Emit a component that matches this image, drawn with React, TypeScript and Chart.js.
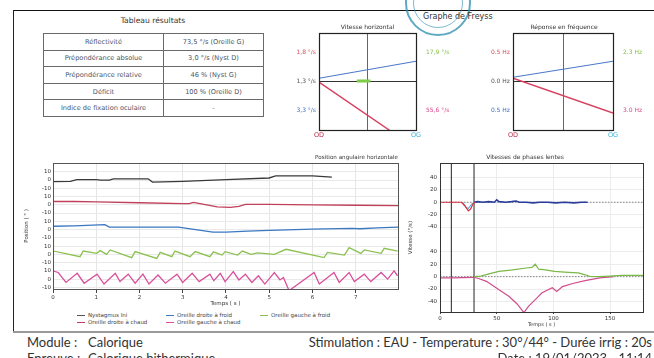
import React, { useEffect, useRef } from 'react';
import { Chart, registerables } from 'chart.js';

Chart.register(...registerables);
Chart.defaults.font.family = "'DejaVu Sans', sans-serif";
Chart.defaults.color = '#333';

// ---------------- Table ----------------
const tableTitle = 'Tableau résultats';
const tableLabels = ['Réflectivité', 'Prépondérance absolue', 'Prépondérance relative', 'Déficit', 'Indice de fixation oculaire'];
const tableValues = ['73,5 °/s (Oreille G)', '3,0 °/s (Nyst D)', '46 % (Nyst G)', '100 % (Oreille D)', '-'];

// ---------------- Freyss ----------------
const freyssTitle = 'Graphe de Freyss';
const freyssEnds = [0, 1]; // OD, OG
const freyssTicks = [0.6, 0, -0.6];
const vitTitle = 'Vitesse horizontal';
const vitLeftLabels = ['1,8 °/s', '1,3 °/s', '3,3 °/s'];
const vitRightLabels = ['17,9 °/s', '', '55,6 °/s'];
const vitBlue = [0.07, 0.42];
const vitRed = [-0.01, -1.38];
const vitGreenX = [0.39, 0.53];
const vitGreenY = [0.01, 0.01];
const freqTitle = 'Réponse en fréquence';
const freqLeftLabels = ['0.5 Hz', '0.0 Hz', '0.5 Hz'];
const freqRightLabels = ['2.3 Hz', '', '3.0 Hz'];
const freqBlue = [0.09, 0.42];
const freqRed = [0.07, -0.65];

// ---------------- Position angulaire horizontale ----------------
const posTitle = 'Position angulaire horizontale';
const posXTicks = [0, 1, 2, 3, 4, 5, 6, 7];
const bandOffsets = [60, 30, 0, -30, -60];
const nystT = [0, 0.4, 0.55, 1.0, 1.1, 1.3, 1.4, 2.2, 2.3, 3.0, 4.0, 5.0, 5.15, 6.0, 6.45];
const nystV = [-2, -1.5, 0.5, 0.5, 0, 0, 1.5, 1.5, -2.5, -1.5, 0.5, 2.5, 5, 5, 3.5];
const odChaudT = [0, 0, 0.5, 1.0, 2.0, 3.0, 3.15, 3.25, 3.4, 3.8, 4.1, 4.3, 4.45, 5.0, 6.0, 7.0, 7.98];
const odChaudV = [38, 4, 4, 3.5, 2.5, 1.5, 1.5, 3, 1.5, -2.5, -3, -2, 0.5, 0.5, 0, -0.5, -1];
const odFroidT = [0, 0, 0.01, 0.5, 1.2, 1.3, 2.0, 2.9, 3.3, 3.7, 4.0, 4.5, 5.0, 6.0, 6.9, 7.1, 7.5, 7.98];
const odFroidV = [16, -14, 4, 4.5, 6, 3, 3, 3, 0, -3, -3, -2, -1, 0.5, 1.5, 1, 2, 3];
const ogFroidT = [0, 0.01, 0.625, 0.7, 1.01, 1.09, 1.24, 1.32, 1.82, 1.9, 2.4, 2.48, 2.75, 2.82, 3.17, 3.29, 3.63, 3.71, 3.91, 3.98, 4.27, 4.38, 4.58, 4.73, 5.12, 5.39, 6.27, 6.35, 6.74, 6.85, 7.12, 7.2, 7.59, 7.66, 7.97];
const ogFroidV = [19, 4, -2.8, 4, 1.2, 4.5, 0, 5.3, -4, 3.3, -4.9, 2.4, -2.8, 4, -2.8, 3.3, -2.8, 3.1, -0.9, 3.3, -0.9, 4, 0, 1.8, 0, 6.1, -4, 2.4, -0.9, 8.2, 1.2, 5.3, 1.2, 7.3, 4];
const ogChaudT = [0, 0, 0.12, 0.3, 0.56, 0.72, 1.02, 1.18, 1.44, 1.55, 1.74, 1.9, 2.08, 2.22, 2.43, 2.6, 2.87, 3.0, 3.22, 3.38, 3.63, 3.72, 3.87, 3.98, 4.17, 4.3, 4.45, 4.6, 4.75, 4.9, 5.12, 5.25, 5.33, 5.46, 6.04, 6.16, 6.5, 6.62, 6.85, 6.97, 7.2, 7.35, 7.59, 7.74, 7.89, 7.97];
const ogChaudV = [-16, 10, 8, -4, 7, -5, 6, -6, 7, -3, 6, -5, 6, -6, 5, -5, 6, -4, 7, -3, 6, -2, 7, -3, 9, -1, 6, -4, 4, -6, 8, -1, 2, -14, 8, -6, 8, -4, 8, -3, 6, -3, 8, 0, 10, 4];
const legendItems = [
  { label: 'Nystagmus Ini', color: '#555555' },
  { label: 'Oreille droite à froid', color: '#3a78c0' },
  { label: 'Oreille gauche à froid', color: '#8cc050' },
  { label: 'Oreille droite à chaud', color: '#c0405a' },
  { label: 'Oreille gauche à chaud', color: '#d8509a' },
];

// ---------------- Vitesses de phases lentes ----------------
const velTitle = 'Vitesses de phases lentes';
const velXTicks = [0, 50, 100, 150];
const velOffsets = [60, -60];
const velRedT = [0, 10, 19, 22, 25, 27, 29, 31];
const velRedV = [0, 0, 0, -6, -14, -11, -3, 0];
const velBlueDipT = [20, 23, 25, 28, 30];
const velBlueDipV = [0, -8, -10, -3, 0];
const velBlueT = [30, 33, 38, 43, 48, 50, 52, 58, 63, 67, 70, 76, 82, 88, 95, 102, 110, 118, 125, 130];
const velBlueV = [0, 1, 0, 1, 0, 4, 1, 0, 1, 2, 0, 0, -1, 0, 0, -1, 0, -1, 0, 0];
const velGreenT = [30, 36, 44, 52, 64, 76, 81, 84, 87, 93, 101, 113, 122, 128, 132, 140, 150, 160, 170, 179];
const velGreenV = [0, 1, 5, 8.5, 11, 14, 15, 20, 12, 11, 8.5, 7, 6, 3, 0.5, 0, 1, 2, 2, 2];
const velPinkT = [0, 10, 30, 34, 41, 52, 61, 68, 74, 78, 84, 90, 99, 103, 108, 117, 129, 141, 153];
const velPinkV = [-2, -2, -1, -3, -7.5, -21, -32, -44, -58, -48, -37, -26, -18, -24, -16, -11, -6, -2, 0];
const velZeroT = [0, 179];
const irrigMarks = [10, 30];
const velEdgeRed = [123, 60];
const velEdgeBlue = [60, -15];
const velEdgeGreen = [-15, -60];
const velEdgePink = [-60, -117];

// ---------------- Footer ----------------
const moduleText = ['Module :', 'Calorique'];
const epreuveText = ['Epreuve :', 'Calorique bithermique'];
const stimText = 'Stimulation : EAU - Temperature : 30°/44° - Durée irrig : 20s';
const dateText = 'Date : 19/01/2023 - 11:14';

const framePlugin = {
  id: 'frame',
  afterDatasetsDraw(chart: any, _args: any, opts: any) {
    const { ctx, chartArea } = chart;
    ctx.save();
    ctx.strokeStyle = opts.color || '#333';
    ctx.lineWidth = opts.width || 1;
    ctx.strokeRect(Math.round(chartArea.left) + 0.5, Math.round(chartArea.top) + 0.5, Math.round(chartArea.right - chartArea.left), Math.round(chartArea.bottom - chartArea.top));
    ctx.restore();
  },
};

const pts = (t: number[], v: number[], off = 0) => t.map((x, i) => ({ x, y: v[i] + off }));
const line = (label: string, data: any[], color: string, width = 1.1, extra: any = {}) => ({
  label, data, borderColor: color, backgroundColor: color, borderWidth: width, showLine: true, pointRadius: 0, tension: 0, ...extra,
});

function ChartCanvas({ left, top, width, height, make }: any) {
  const ref = useRef<HTMLCanvasElement>(null);
  useEffect(() => {
    const ch = new Chart(ref.current as HTMLCanvasElement, make());
    return () => ch.destroy();
  }, []);
  return <canvas ref={ref} width={width} height={height} style={{ position: 'absolute', left, top, width, height }} />;
}

const idx3 = (v: number) => (v > 0.3 ? 0 : v < -0.3 ? 2 : 1);
const leftColors = ['#d8505a', '#555555', '#3d6fc0'];
const rightColors = ['#86bf4a', '#555555', '#d8478c'];

function freyssConfig(title: string, leftLabels: string[], rightLabels: string[], datasets: any[], rightW: number) {
  return {
    type: 'scatter',
    data: { datasets },
    options: {
      animation: false, responsive: false,
      layout: { padding: { top: 4, left: 0, right: 0, bottom: 0 } },
      plugins: {
        legend: { display: false }, tooltip: { enabled: false },
        title: { display: true, text: title, font: { size: 6, weight: 'normal' }, color: '#333', padding: { top: 0, bottom: 2 } },
        frame: { color: '#222', width: 1.2 },
      },
      scales: {
        x: {
          type: 'linear', min: 0, max: 1,
          afterBuildTicks: (s: any) => { s.ticks = [0, 0.5, 1].map((value) => ({ value })); },
          ticks: { maxRotation: 0, autoSkip: false, padding: 1, font: { size: 6.5 },
            callback: (v: number) => (v === 0 ? 'OD' : v === 1 ? 'OG' : ''),
            color: (c: any) => (c.tick && c.tick.value === 0 ? '#b8304a' : '#3ab4e0') },
          grid: { drawTicks: false, color: (c: any) => (c.tick && c.tick.value === 0.5 ? '#666' : 'rgba(0,0,0,0)') },
          border: { display: false },
          afterFit: (s: any) => { s.height = 15; },
        },
        y: {
          position: 'left', min: -1, max: 1,
          afterBuildTicks: (s: any) => { s.ticks = freyssTicks.map((value) => ({ value })); },
          ticks: { autoSkip: false, padding: 3, font: { size: 6 },
            callback: (v: number) => leftLabels[idx3(v)],
            color: (c: any) => leftColors[idx3(c.tick ? c.tick.value : 0)] },
          grid: { drawTicks: false, color: (c: any) => (c.tick && c.tick.value === 0 ? '#333' : 'rgba(0,0,0,0)') },
          border: { display: false },
          afterFit: (s: any) => { s.width = 39; },
        },
        y2: {
          position: 'right', min: -1, max: 1,
          afterBuildTicks: (s: any) => { s.ticks = freyssTicks.map((value) => ({ value })); },
          ticks: { autoSkip: false, padding: 2, font: { size: 6 },
            callback: (v: number) => rightLabels[idx3(v)],
            color: (c: any) => rightColors[idx3(c.tick ? c.tick.value : 0)] },
          grid: { display: false },
          border: { display: false },
          afterFit: (s: any) => { s.width = rightW; },
        },
      },
    },
    plugins: [framePlugin],
  };
}

const vitConfig = () => freyssConfig(vitTitle, vitLeftLabels, vitRightLabels, [
  line('Vitesse OD/OG', pts(freyssEnds, vitBlue), '#4a78c8', 1.1),
  line('Vitesse', pts(freyssEnds, vitRed), '#d84060', 1.4),
  line('Vitesse ref', pts(vitGreenX, vitGreenY), '#7ccc44', 3),
], 39);

const freqConfig = () => freyssConfig(freqTitle, freqLeftLabels, freqRightLabels, [
  line('Fréquence bleu', pts(freyssEnds, freqBlue), '#4a78c8', 1.1),
  line('Fréquence rouge', pts(freyssEnds, freqRed), '#d84060', 1.4),
], 41);

const posConfig = () => {
  const series = [
    { label: 'Nystagmus Ini', t: nystT, v: nystV, band: 0, color: '#3a3a3a' },
    { label: 'Oreille droite à chaud', t: odChaudT, v: odChaudV, band: 1, color: '#c0405a' },
    { label: 'Oreille droite à froid', t: odFroidT, v: odFroidV, band: 2, color: '#3a78c0' },
    { label: 'Oreille gauche à froid', t: ogFroidT, v: ogFroidV, band: 3, color: '#8cc050' },
    { label: 'Oreille gauche à chaud', t: ogChaudT, v: ogChaudV, band: 4, color: '#d8509a' },
  ];
  const tickVals = bandOffsets.flatMap((o) => [o + 10, o, o - 10]);
  const nearest = (v: number) => bandOffsets.reduce((a, b) => (Math.abs(v - b) < Math.abs(v - a) ? b : a));
  return {
    type: 'scatter',
    data: { datasets: series.map((s) => line(s.label, pts(s.t, s.v, bandOffsets[s.band]), s.color, 1.3)) },
    options: {
      animation: false, responsive: false,
      layout: { padding: { left: 8, right: 7, top: 4, bottom: 0 } },
      plugins: {
        legend: { display: false }, tooltip: { enabled: false },
        title: { display: true, text: posTitle, align: 'end', font: { size: 5.6, weight: 'normal' }, color: '#333', padding: { top: 0, bottom: 2 } },
        frame: { color: '#555', width: 1 },
      },
      scales: {
        x: {
          type: 'linear', min: 0, max: 7.98,
          afterBuildTicks: (s: any) => { s.ticks = posXTicks.map((value) => ({ value })); },
          ticks: { autoSkip: false, font: { size: 5.5 }, padding: 1, maxRotation: 0, color: '#333', callback: (v: number) => String(v) },
          grid: { color: '#e6e6e6', tickLength: 4, tickColor: '#444' },
          border: { display: false },
          title: { display: true, text: 'Temps ( s )', font: { size: 5.5 }, padding: { top: 1, bottom: 0 }, color: '#333' },
          afterFit: (s: any) => { s.height = 18; },
        },
        y: {
          min: -72, max: 81,
          afterBuildTicks: (s: any) => { s.ticks = tickVals.map((value) => ({ value })); },
          ticks: { autoSkip: false, font: { size: 5.5 }, padding: 2, color: '#333',
            callback: (v: number) => String(Math.round(v - nearest(v))) },
          grid: { color: '#e9e9e9', drawTicks: false },
          border: { display: false },
          title: { display: true, text: 'Position ( ° )', font: { size: 5.5 }, padding: 0, color: '#333' },
          afterFit: (s: any) => { s.width = 30; },
        },
      },
    },
    plugins: [framePlugin],
  };
};

const velConfig = () => {
  const [up, lo] = velOffsets;
  const tickVals = velOffsets.flatMap((o) => [o + 40, o + 20, o, o - 20, o - 40]);
  const datasets = [
    line('Oreille droite à chaud', pts(velRedT, velRedV, up), '#d83040', 1.2),
    line('Oreille droite à froid (début)', pts(velBlueDipT, velBlueDipV, up), '#62b4e4', 1.2),
    line('Oreille droite à froid', pts(velBlueT, velBlueV, up), '#2a3c9c', 1.6),
    line('Oreille gauche à froid', pts(velGreenT, velGreenV, lo), '#7ab848', 1.2),
    line('Oreille gauche à chaud', pts(velPinkT, velPinkV, lo), '#d04c8c', 1.2),
    line('Début irrigation', [{ x: irrigMarks[0], y: -117 }, { x: irrigMarks[0], y: 123 }], '#222', 1),
    line('Fin irrigation', [{ x: irrigMarks[1], y: -117 }, { x: irrigMarks[1], y: 123 }], '#222', 1),
    line('edge r', pts([0, 0], velEdgeRed), '#d83040', 1.6),
    line('edge b', pts([0, 0], velEdgeBlue), '#62a8e0', 1.6),
    line('edge g', pts([0, 0], velEdgeGreen), '#7ab848', 1.6),
    line('edge p', pts([0, 0], velEdgePink), '#d04c8c', 1.6),
    line('zéro haut', pts(velZeroT, [0, 0], up), '#888', 1, { borderDash: [1.5, 1.5] }),
    line('zéro bas', pts(velZeroT, [0, 0], lo), '#888', 1, { borderDash: [1.5, 1.5] }),
  ];
  return {
    type: 'scatter',
    data: { datasets },
    options: {
      animation: false, responsive: false,
      layout: { padding: { left: 7, right: 11, top: 4, bottom: 0 } },
      plugins: {
        legend: { display: false }, tooltip: { enabled: false },
        title: { display: true, text: velTitle, font: { size: 6, weight: 'normal' }, color: '#333', padding: { top: 0, bottom: 2 } },
        frame: { color: '#333', width: 1 },
      },
      scales: {
        x: {
          type: 'linear', min: 0, max: 179,
          afterBuildTicks: (s: any) => { s.ticks = velXTicks.map((value) => ({ value })); },
          ticks: { autoSkip: false, font: { size: 5.5 }, padding: 1, maxRotation: 0, color: '#333', callback: (v: number) => String(v) },
          grid: { color: '#ececec', tickLength: 2, tickColor: '#444' },
          border: { display: false },
          title: { display: true, text: 'Temps ( s )', font: { size: 5 }, padding: { top: 0, bottom: 0 }, color: '#333' },
          afterFit: (s: any) => { s.height = 16; },
        },
        y: {
          min: -117, max: 123,
          afterBuildTicks: (s: any) => { s.ticks = tickVals.map((value) => ({ value })); },
          ticks: { autoSkip: false, font: { size: 5.5 }, padding: 3, color: '#333',
            callback: (v: number) => String(Math.round(v - (v > 0 ? up : lo))) },
          grid: { color: '#ececec', drawTicks: false },
          border: { display: false },
          title: { display: true, text: 'Vitesse (°/s)', font: { size: 5.5 }, padding: 0, color: '#333' },
          afterFit: (s: any) => { s.width = 33; },
        },
      },
    },
    plugins: [framePlugin],
  };
};

const tdBase: React.CSSProperties = { border: '1px solid #6a6a6a', textAlign: 'center', padding: 0, height: 15.6, fontSize: 6.6, color: '#4a5566', whiteSpace: 'nowrap' };
const footFont = "Lato, sans-serif";
const footStyle: React.CSSProperties = { position: 'absolute', fontFamily: footFont, fontSize: 13, color: '#333', lineHeight: '16px', whiteSpace: 'nowrap' };

export default function App() {
  return (
    <div style={{ position: 'fixed', left: 0, top: 0, width: 654, height: 358, overflow: 'hidden', background: '#fff', fontFamily: "'DejaVu Sans', sans-serif" }}>
      {/* page frame */}
      <div style={{ position: 'absolute', left: 13, top: 9.5, width: 641, height: 1.5, background: '#111' }} />
      <div style={{ position: 'absolute', left: 13, top: 10, width: 1.2, height: 322, background: '#222' }} />
      <div style={{ position: 'absolute', left: 13, top: 331, width: 641, height: 1.5, background: '#9a9a9a' }} />

      {/* table */}
      <div style={{ position: 'absolute', left: 43, top: 16, width: 220, textAlign: 'center', fontSize: 7.6, color: '#333' }}>{tableTitle}</div>
      <table style={{ position: 'absolute', left: 43, top: 33, width: 220, borderCollapse: 'collapse', tableLayout: 'fixed' }}>
        <colgroup><col style={{ width: 120 }} /><col style={{ width: 100 }} /></colgroup>
        <tbody>
          {tableLabels.map((l, i) => (
            <tr key={l}>
              <td style={tdBase}>{l}</td>
              <td style={tdBase}>{tableValues[i]}</td>
            </tr>
          ))}
        </tbody>
      </table>

      {/* stamp */}
      <div style={{ position: 'absolute', left: 405, top: -30, width: 66, height: 66, borderRadius: '50%', border: '2px solid rgba(40,140,175,0.75)', boxSizing: 'border-box' }} />
      <div style={{ position: 'absolute', left: 413, top: -22, width: 50, height: 50, borderRadius: '50%', border: '1.5px solid rgba(40,140,175,0.6)', boxSizing: 'border-box' }} />
      <div style={{ position: 'absolute', left: 423, top: 12, fontSize: 8, color: '#333' }}>{freyssTitle}</div>

      <ChartCanvas left={280} top={20} width={175} height={125} make={vitConfig} />
      <ChartCanvas left={474} top={20} width={180} height={125} make={freqConfig} />
      <ChartCanvas left={15} top={150} width={390} height={157} make={posConfig} />
      <ChartCanvas left={400} top={150} width={254} height={178} make={velConfig} />

      {/* legend */}
      {legendItems.map((it, i) => {
        const col = i < 3 ? i : i - 3;
        const row = i < 3 ? 0 : 1;
        const lefts = [77, 166, 260];
        return (
          <div key={it.label} style={{ position: 'absolute', left: lefts[col], top: 312 + row * 7, fontSize: 5.5, color: '#444', whiteSpace: 'nowrap', lineHeight: '7px' }}>
            <span style={{ display: 'inline-block', width: 8, height: 1, background: it.color, verticalAlign: 'middle', marginRight: 3 }} />
            {it.label}
          </div>
        );
      })}

      {/* footer */}
      <div style={{ ...footStyle, left: 27, top: 334 }}>{moduleText[0]}</div>
      <div style={{ ...footStyle, left: 88, top: 334 }}>{moduleText[1]}</div>
      <div style={{ ...footStyle, left: 27, top: 350 }}>{epreuveText[0]}</div>
      <div style={{ ...footStyle, left: 88, top: 350 }}>{epreuveText[1]}</div>
      <div style={{ ...footStyle, right: 2, top: 334 }}>{stimText}</div>
      <div style={{ ...footStyle, right: 2, top: 350 }}>{dateText}</div>
    </div>
  );
}
